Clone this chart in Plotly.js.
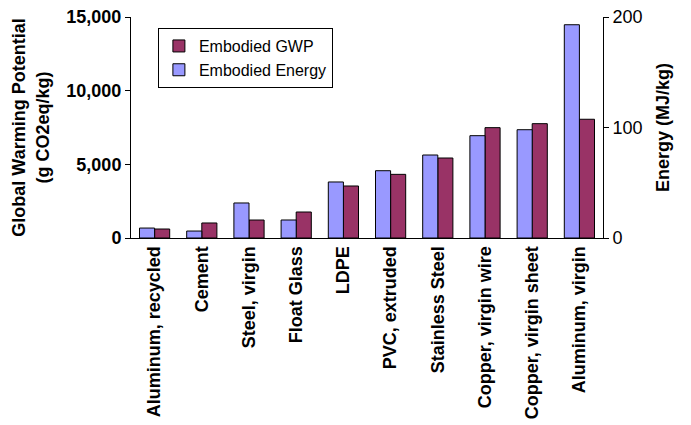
<!DOCTYPE html>
<html>
<head>
<meta charset="utf-8">
<script src="https://cdn.plot.ly/plotly-3.0.1.min.js"></script>
<style>
html,body{margin:0;padding:0;background:#fff;}
#chart{width:691px;height:425px;}
</style>
</head>
<body>
<div id="chart"></div>
<script>
const categories = ["Aluminum, recycled","Cement","Steel, virgin","Float Glass","LDPE","PVC, extruded","Stainless Steel","Copper, virgin wire","Copper, virgin sheet","Aluminum, virgin"];
const embodiedEnergy = [9, 6.3, 31.7, 16.3, 50.7, 60.9, 75.1, 92.6, 98, 193];   // MJ/kg (right axis)
const embodiedGWP = [610, 1020, 1220, 1765, 3530, 4320, 5430, 7490, 7760, 8060]; // g CO2eq/kg (left axis)
const leftTicks = [0, 5000, 10000, 15000];
const rightTicks = [0, 100, 200];

const FONT = "Arial, 'Liberation Sans', sans-serif";

const traces = [
  {
    type: "bar", name: "Embodied Energy", x: categories, y: embodiedEnergy,
    yaxis: "y2", offsetgroup: "energy", legendrank: 2,
    marker: {color: "#9999FF", line: {color: "#000000", width: 1}}
  },
  {
    type: "bar", name: "Embodied GWP", x: categories, y: embodiedGWP,
    yaxis: "y", offsetgroup: "gwp", legendrank: 1,
    marker: {color: "#993366", line: {color: "#000000", width: 1}}
  }
];

const layout = {
  width: 691, height: 425,
  margin: {l: 131, r: 88, t: 17, b: 187},
  paper_bgcolor: "#ffffff", plot_bgcolor: "#ffffff",
  barmode: "group", bargap: 0.36, bargroupgap: 0,
  font: {family: FONT, color: "#000000"},
  showlegend: true,
  legend: {
    x: 0.057, y: 0.95, xanchor: "left", yanchor: "top",
    bordercolor: "#000000", borderwidth: 1, bgcolor: "#ffffff",
    font: {family: FONT, size: 16, color: "#000000"},
    tracegroupgap: 0
  },
  xaxis: {
    type: "category", tickangle: -90,
    tickfont: {family: FONT, size: 18, color: "#000", weight: "bold"},
    showline: true, linecolor: "#000", linewidth: 1,
    ticks: "", showgrid: false, zeroline: false, automargin: false
  },
  yaxis: {
    range: [0, 15000], tickvals: leftTicks, tickformat: ",d",
    tickfont: {family: FONT, size: 18, color: "#000", weight: "bold"},
    showline: true, linecolor: "#000", linewidth: 1,
    ticks: "outside", ticklen: 5, tickcolor: "#000",
    showgrid: false, zeroline: false, automargin: false,
    title: {text: "Global Warming Potential<br>(g CO2eq/kg)", font: {family: FONT, size: 18, weight: "bold"}, standoff: 12}
  },
  yaxis2: {
    overlaying: "y", side: "right", range: [0, 200], tickvals: rightTicks,
    tickfont: {family: FONT, size: 18, color: "#000"},
    showline: true, linecolor: "#000", linewidth: 1,
    ticks: "outside", ticklen: 5, tickcolor: "#000",
    showgrid: false, zeroline: false, automargin: false,
    title: {text: "Energy (MJ/kg)", font: {family: FONT, size: 18, weight: "bold"}, standoff: 14}
  }
};

Plotly.newPlot("chart", traces, layout, {staticPlot: true, displayModeBar: false});
</script>
</body>
</html>
